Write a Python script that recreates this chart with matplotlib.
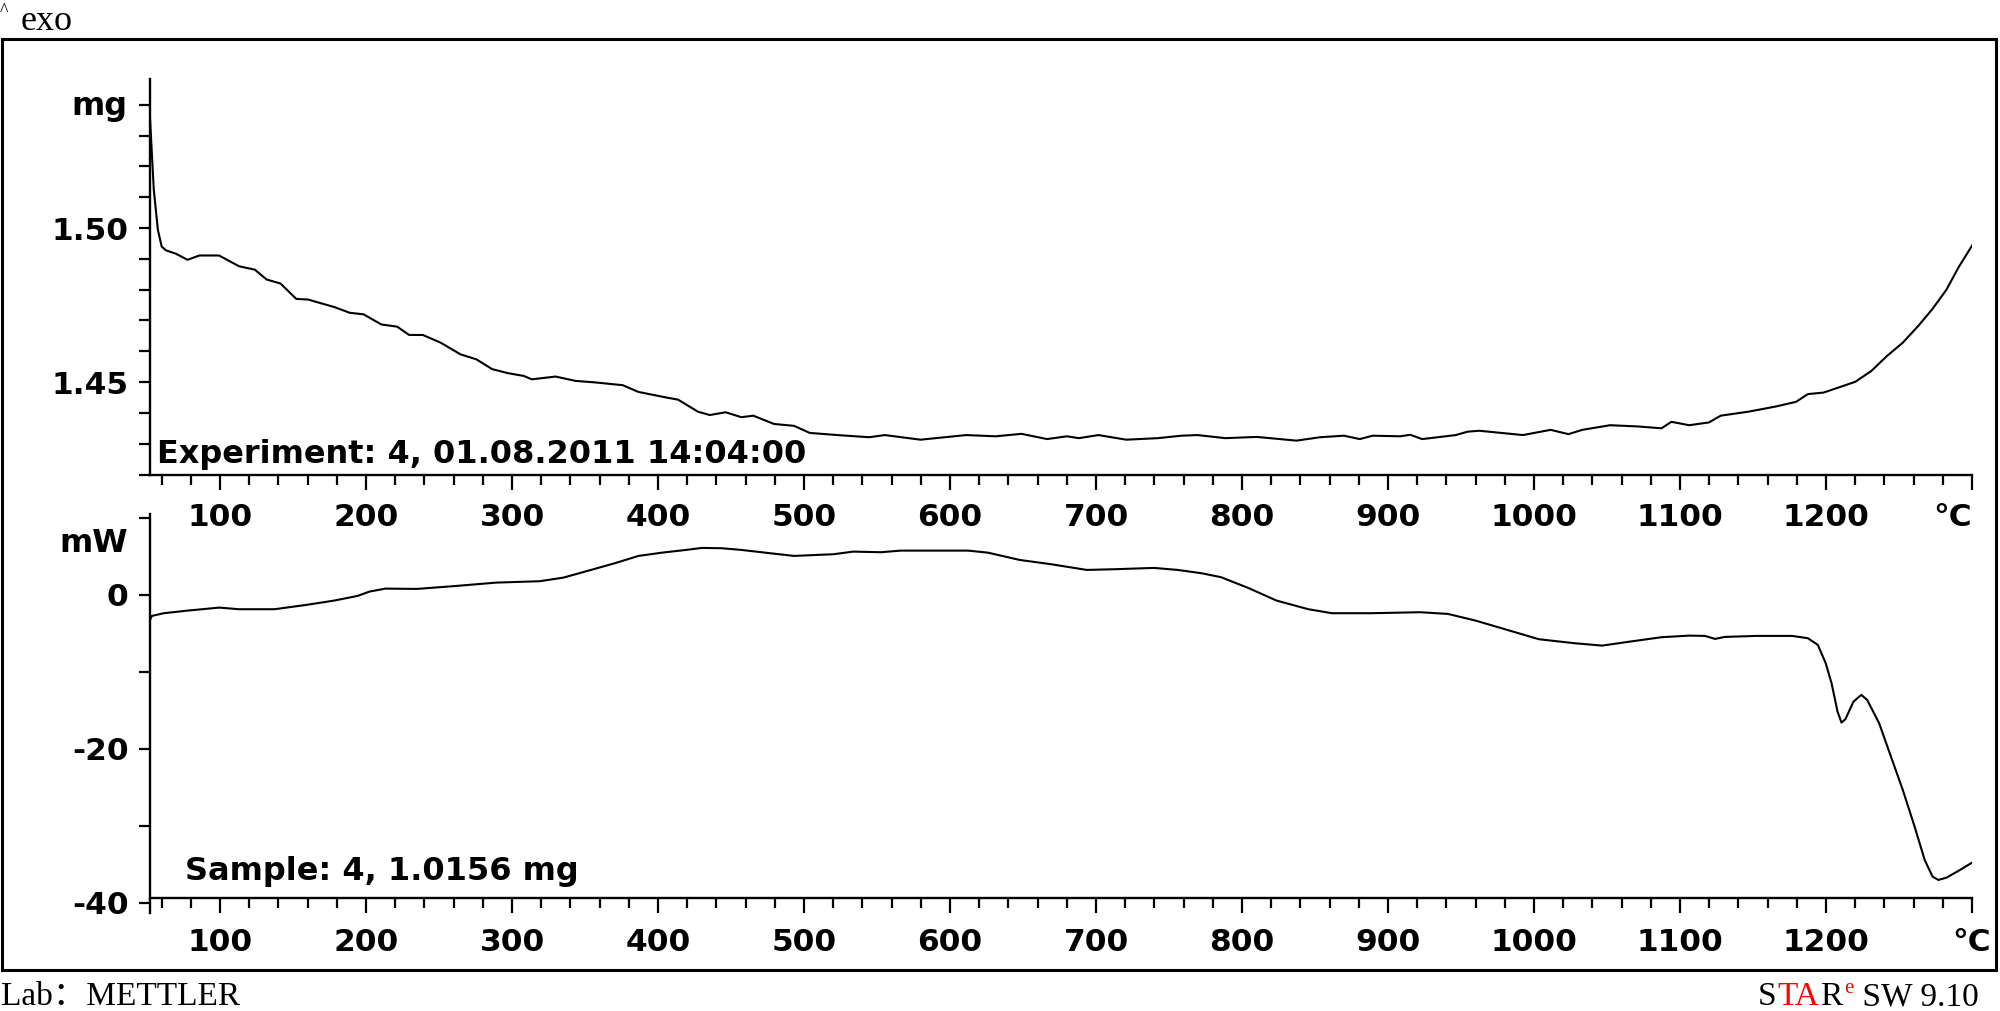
import numpy as np
import matplotlib
matplotlib.use("Agg")
import matplotlib.pyplot as plt
from matplotlib.patches import Rectangle

# ---------------- data ----------------
tga_temp = [52.0, 54.6, 57.4, 60.0, 62.8, 69.6, 77.7, 85.8, 99.3, 113.0, 123.8, 131.9, 141.4,
            152.2, 160.3, 169.8, 178.0, 188.8, 198.3, 210.5, 221.3, 229.5, 238.9, 251.1, 264.7,
            275.5, 286.4, 297.2, 308.0, 313.5, 329.8, 343.3, 356.8, 375.8, 386.6, 405.6, 413.7,
            427.3, 435.4, 446.3, 457.1, 465.2, 479.5, 493.1, 503.9, 522.9, 544.6, 555.4, 579.8,
            611.0, 631.3, 648.9, 666.5, 680.0, 688.2, 701.7, 720.7, 742.4, 758.6, 769.5, 788.5,
            810.1, 837.3, 853.5, 869.8, 880.6, 889.5, 908.4, 915.2, 923.4, 946.4, 954.5, 962.6,
            992.4, 1011.4, 1023.6, 1033.1, 1052.1, 1071.1, 1087.3, 1094.1, 1106.3, 1119.8,
            1127.9, 1146.9, 1165.9, 1179.5, 1187.6, 1198.4, 1220.1, 1231.0, 1241.8, 1252.6,
            1263.5, 1273.0, 1282.5, 1290.6, 1300.0]
tga_mass = [1.5357, 1.5124, 1.4994, 1.4940, 1.4928, 1.4917, 1.4897, 1.4911, 1.4911, 1.4876,
            1.4865, 1.4833, 1.4820, 1.4770, 1.4768, 1.4755, 1.4744, 1.4725, 1.4720, 1.4687,
            1.4680, 1.4653, 1.4653, 1.4628, 1.4590, 1.4574, 1.4542, 1.4529, 1.4520, 1.4509,
            1.4518, 1.4504, 1.4499, 1.4490, 1.4468, 1.4450, 1.4443, 1.4404, 1.4393, 1.4402,
            1.4386, 1.4391, 1.4364, 1.4358, 1.4335, 1.4328, 1.4321, 1.4328, 1.4313, 1.4328,
            1.4324, 1.4332, 1.4315, 1.4324, 1.4318, 1.4328, 1.4313, 1.4318, 1.4326, 1.4328,
            1.4318, 1.4322, 1.4310, 1.4321, 1.4326, 1.4315, 1.4326, 1.4324, 1.4329, 1.4315,
            1.4328, 1.4339, 1.4342, 1.4328, 1.4345, 1.4331, 1.4345, 1.4360, 1.4356, 1.4350,
            1.4371, 1.4360, 1.4369, 1.4391, 1.4404, 1.4421, 1.4436, 1.4461, 1.4466, 1.4501,
            1.4536, 1.4585, 1.4628, 1.4684, 1.4738, 1.4800, 1.4871, 1.4943]

dsc_temp = [52.0, 53.3, 61.4, 77.7, 99.4, 113.0, 137.3, 159.0, 178.0, 194.2, 202.3, 213.2,
            234.9, 262.0, 289.1, 318.9, 335.2, 354.1, 370.4, 386.6, 402.9, 419.2, 430.0, 443.6,
            457.1, 476.8, 493.1, 520.2, 533.7, 552.7, 566.3, 612.3, 625.8, 647.6, 669.2, 693.6,
            712.6, 739.7, 755.9, 772.2, 785.7, 804.7, 823.7, 845.4, 861.6, 888.0, 922.0, 941.0,
            960.0, 981.7, 1003.3, 1027.7, 1046.7, 1065.7, 1087.3, 1106.3, 1117.1, 1124.0, 1130.7,
            1152.4, 1176.8, 1187.6, 1194.4, 1199.8, 1203.8, 1207.9, 1210.6, 1213.3, 1218.8,
            1224.2, 1228.2, 1236.4, 1244.5, 1252.6, 1260.7, 1267.6, 1273.0, 1277.0, 1282.5,
            1290.6, 1300.0]
dsc_heat = [-3.25, -2.73, -2.38, -2.04, -1.65, -1.86, -1.86, -1.30, -0.74, -0.13, 0.43, 0.82,
            0.78, 1.17, 1.60, 1.78, 2.25, 3.25, 4.12, 5.07, 5.50, 5.85, 6.11, 6.07,
            5.85, 5.42, 5.07, 5.29, 5.63, 5.55, 5.76, 5.76, 5.50, 4.55, 3.99, 3.25,
            3.34, 3.51, 3.25, 2.82, 2.30, 0.87, -0.74, -1.86, -2.38, -2.38, -2.25, -2.47,
            -3.34, -4.55, -5.76, -6.28, -6.59, -6.07, -5.50, -5.29, -5.33, -5.72, -5.46,
            -5.33, -5.33, -5.63, -6.50, -8.88, -11.48, -15.17, -16.60, -16.16, -13.87,
            -13.00, -13.65, -16.69, -21.03, -25.36, -30.13, -34.46, -36.63, -37.06, -36.76,
            -35.89, -34.81]

x_major = [100, 200, 300, 400, 500, 600, 700, 800, 900, 1000, 1100, 1200, 1300]
x_major_labels = ['100', '200', '300', '400', '500', '600', '700', '800', '900', '1000',
                  '1100', '1200', '°C']
x_minor = [60, 80, 120, 140, 160, 180, 220, 240, 260, 280, 320, 340, 360, 380, 420, 440,
           460, 480, 520, 540, 560, 580, 620, 640, 660, 680, 720, 740, 760, 780, 820, 840,
           860, 880, 920, 940, 960, 980, 1020, 1040, 1060, 1080, 1120, 1140, 1160, 1180,
           1220, 1240, 1260, 1280]
mass_ticks = [1.42, 1.43, 1.44, 1.45, 1.46, 1.47, 1.48, 1.49, 1.50, 1.51, 1.52, 1.53, 1.54]
mass_labels = ['', '', '', '1.45', '', '', '', '', '1.50', '', '', '', '']
heat_ticks = [10, 0, -10, -20, -30, -40]
heat_labels = ['', '0', '', '-20', '', '-40']

# ---------------- figure ----------------
W, H = 2000, 1011
plt.rcParams['font.family'] = ['DejaVu Sans']
plt.rcParams['font.weight'] = 'bold'
fig = plt.figure(figsize=(W / 100, H / 100), dpi=100)
fig.patch.set_facecolor('white')


def fx(px):
    return px / W


def fy(py):
    return 1 - py / H


SERIF = ['Liberation Serif', 'Noto Sans CJK SC', 'DejaVu Serif']
LW_SPINE = 1.7
TICK_FS = 22.5

axT = fig.add_axes([fx(150), fy(474.5), fx(1972) - fx(150), (474.5 - 79) / H])
axB = fig.add_axes([fx(150), fy(913.5), fx(1972) - fx(150), (913.5 - 514) / H])

for ax in (axT, axB):
    for s in ('top', 'right'):
        ax.spines[s].set_visible(False)
    for s in ('left', 'bottom'):
        ax.spines[s].set_linewidth(LW_SPINE)
    ax.set_xlim(52, 1300)
    ax.set_xticks(x_major)
    ax.set_xticklabels(x_major_labels)
    ax.set_xticks(x_minor, minor=True)
    ax.tick_params(axis='x', which='major', length=10.8, width=1.6, direction='out',
                   labelsize=TICK_FS)
    ax.tick_params(axis='x', which='minor', length=7.2, width=1.6, direction='out')
    ax.tick_params(axis='y', which='major', length=8, width=1.6, direction='out',
                   labelsize=TICK_FS, pad=7.5)
    for lbl in ax.get_xticklabels():
        lbl.set_fontweight('bold')
        if lbl.get_text() == '°C':
            lbl.set_horizontalalignment('right')
    ax.set_facecolor('none')

# top: TGA
axT.plot(tga_temp, tga_mass, color='black', lw=1.5, solid_joinstyle='round')
axT.set_ylim(1.42, 1.5484)
axT.set_yticks(mass_ticks)
axT.set_yticklabels(mass_labels)
axT.tick_params(axis='x', which='major', pad=9.5)

# bottom: DSC
axB.plot(dsc_temp, dsc_heat, color='black', lw=1.5, solid_joinstyle='round')
axB.set_ylim(-41.42, 10.52)
axB.spines['bottom'].set_position(('data', -39.44))
axB.set_yticks(heat_ticks)
axB.set_yticklabels(heat_labels)
axB.tick_params(axis='x', which='major', pad=10.5)

for ax in (axT, axB):
    for lbl in ax.get_yticklabels() + ax.get_xticklabels():
        lbl.set_fontweight('bold')

# unit labels
fig.text(fx(128), fy(115), 'mg', ha='right', va='baseline', fontsize=23, fontweight='bold')
fig.text(fx(128), fy(552), 'mW', ha='right', va='baseline', fontsize=23, fontweight='bold')

# curve annotations
fig.text(fx(157), fy(463), 'Experiment: 4, 01.08.2011 14:04:00', ha='left', va='baseline',
         fontsize=23, fontweight='bold')
fig.text(fx(185), fy(880), 'Sample: 4, 1.0156 mg', ha='left', va='baseline',
         fontsize=23, fontweight='bold')

# outer frame
fig.patches.append(Rectangle((fx(2), fy(970)), fx(1996) - fx(2), (970 - 39) / H,
                             transform=fig.transFigure, fill=False, lw=2.2,
                             edgecolor='black'))

# header / footer (serif)
fig.text(fx(0), fy(16), '^', ha='left', va='baseline', fontsize=13, family=SERIF,
         fontweight='normal')
fig.text(fx(21), fy(30), 'exo', ha='left', va='baseline', fontsize=26, family=SERIF,
         fontweight='normal')
fig.text(fx(1), fy(1005), 'Lab：METTLER', ha='left', va='baseline', fontsize=24,
         family=SERIF, fontweight='normal')

# STARe SW 9.10 with coloured letters
fig.canvas.draw()
renderer = fig.canvas.get_renderer()
pieces = [('S', 'black', 24, 0), ('TA', '#ff0000', 24, 0), ('R', 'black', 24, 0),
          ('e', '#ff0000', 15, 12), (' SW 9.10', 'black', 24, 0)]
xcur = 1758
for txt, col, fs, rise in pieces:
    t = fig.text(fx(xcur), fy(1005 - rise), txt, ha='left', va='baseline', fontsize=fs,
                 family=SERIF, fontweight='normal', color=col)
    bb = t.get_window_extent(renderer)
    xcur = bb.x1 + 1

fig.savefig('out.png', dpi=100, facecolor='white')
